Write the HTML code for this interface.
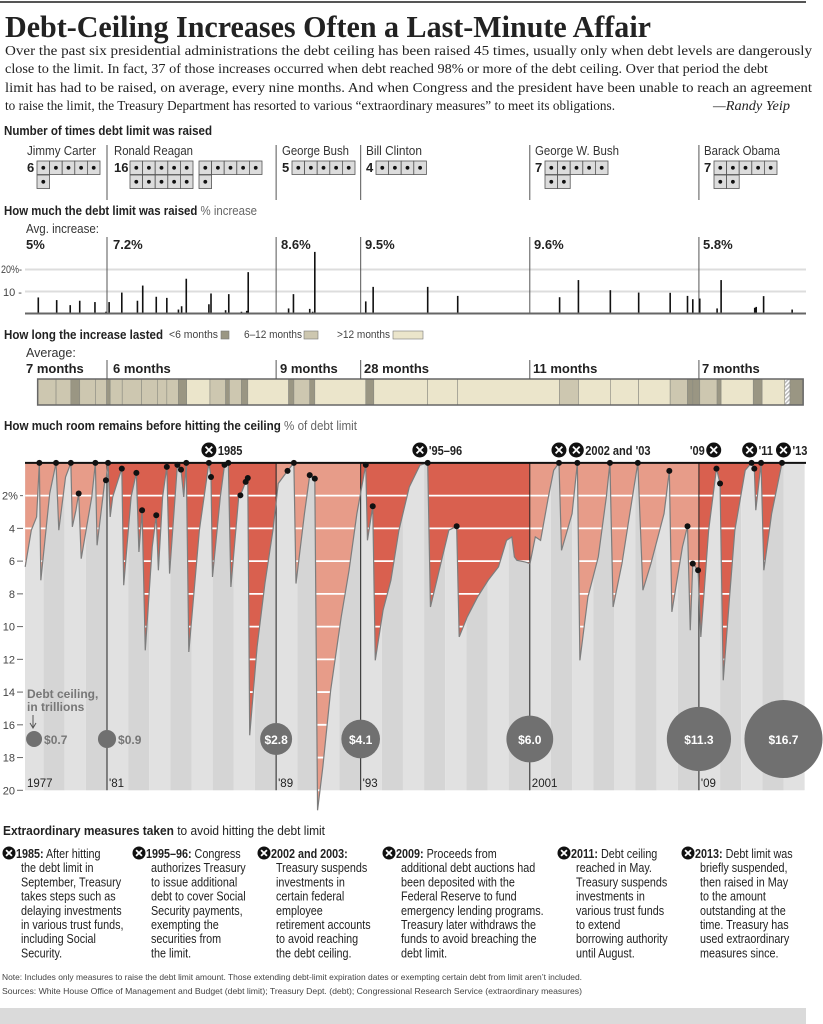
<!DOCTYPE html>
<html><head><meta charset="utf-8"><style>
html,body{margin:0;padding:0;background:#fff;}
svg{display:block;font-family:"Liberation Sans Narrow","Liberation Sans",sans-serif;}
.b{font-weight:bold;}
</style></head><body>
<svg id="s" xmlns="http://www.w3.org/2000/svg" width="823" height="1024" viewBox="0 0 823 1024">
<rect x="0" y="1" width="806" height="2" fill="#555"/>
<text x="5" y="37" font-family="Liberation Serif, serif" font-weight="bold" font-size="31" textLength="646" lengthAdjust="spacingAndGlyphs" fill="#222">Debt-Ceiling Increases Often a Last-Minute Affair</text>
<g font-family="Liberation Serif, serif" font-size="14" fill="#222">
<text x="5" y="55" textLength="807" lengthAdjust="spacingAndGlyphs">Over the past six presidential administrations the debt ceiling has been raised 45 times, usually only when debt levels are dangerously</text>
<text x="5" y="73" textLength="763" lengthAdjust="spacingAndGlyphs">close to the limit. In fact, 37 of those increases occurred when debt reached 98% or more of the debt ceiling. Over that period the debt</text>
<text x="5" y="92" textLength="807" lengthAdjust="spacingAndGlyphs">limit has had to be raised, on average, every nine months. And when Congress and the president have been unable to reach an agreement</text>
<text x="5" y="110" textLength="610" lengthAdjust="spacingAndGlyphs">to raise the limit, the Treasury Department has resorted to various “extraordinary measures” to meet its obligations.</text>
<text x="713" y="110" font-style="italic" textLength="77" lengthAdjust="spacingAndGlyphs">—Randy Yeip</text>
</g>
<text x="4" y="135" font-size="13" class="b" fill="#222" textLength="208" lengthAdjust="spacingAndGlyphs">Number of times debt limit was raised</text>
<g font-size="13" fill="#333">
<text x="27" y="155" textLength="69" lengthAdjust="spacingAndGlyphs">Jimmy Carter</text><text x="114" y="155" textLength="79" lengthAdjust="spacingAndGlyphs">Ronald Reagan</text><text x="282" y="155" textLength="67" lengthAdjust="spacingAndGlyphs">George Bush</text><text x="366" y="155" textLength="56" lengthAdjust="spacingAndGlyphs">Bill Clinton</text><text x="535" y="155" textLength="84" lengthAdjust="spacingAndGlyphs">George W. Bush</text><text x="704" y="155" textLength="76" lengthAdjust="spacingAndGlyphs">Barack Obama</text>
</g>
<g id="counts"></g>

<text x="4" y="215" font-size="13" fill="#222" textLength="253" lengthAdjust="spacingAndGlyphs"><tspan class="b">How much the debt limit was raised</tspan><tspan fill="#666"> % increase</tspan></text>
<text x="26" y="233" font-size="12.5" fill="#333" textLength="73" lengthAdjust="spacingAndGlyphs">Avg. increase:</text>
<g font-size="13" class="b" fill="#222">
<text x="26" y="249">5%</text><text x="113" y="249">7.2%</text><text x="281" y="249">8.6%</text><text x="365" y="249">9.5%</text><text x="534" y="249">9.6%</text><text x="703" y="249">5.8%</text>
</g>
<g font-size="11" fill="#444">
<text x="1" y="273" textLength="21" lengthAdjust="spacingAndGlyphs">20%-</text><text x="3" y="296">10 -</text>
</g>
<g id="bars"></g>

<text x="4" y="339" font-size="13" fill="#222" textLength="159" lengthAdjust="spacingAndGlyphs"><tspan class="b">How long the increase lasted</tspan></text>
<g font-size="11" fill="#444">
<text x="169" y="338" textLength="49" lengthAdjust="spacingAndGlyphs">&lt;6 months</text><rect x="221" y="331" width="8" height="8" fill="#9a9683" stroke="#777" stroke-width="0.6"/>
<text x="244" y="338" textLength="58" lengthAdjust="spacingAndGlyphs">6–12 months</text><rect x="304" y="331" width="14" height="8" fill="#cdc7b0" stroke="#777" stroke-width="0.6"/>
<text x="337" y="338" textLength="53" lengthAdjust="spacingAndGlyphs">&gt;12 months</text><rect x="393" y="331" width="30" height="8" fill="#ebe5cb" stroke="#777" stroke-width="0.6"/>
</g>
<text x="26" y="357" font-size="12.5" fill="#333">Average:</text>
<g font-size="13" class="b" fill="#222">
<text x="26" y="373">7 months</text><text x="113" y="373">6 months</text><text x="280" y="373">9 months</text><text x="364" y="373">28 months</text><text x="533" y="373">11 months</text><text x="702" y="373">7 months</text>
</g>
<defs><pattern id="hatch" width="3" height="3" patternUnits="userSpaceOnUse" patternTransform="rotate(45)"><rect width="3" height="3" fill="#fff"/><rect width="1.5" height="3" fill="#bbb"/></pattern></defs>
<g id="dur"></g>

<text x="4" y="430" font-size="13" fill="#222" textLength="353" lengthAdjust="spacingAndGlyphs"><tspan class="b">How much room remains before hitting the ceiling</tspan><tspan fill="#666"> % of debt limit</tspan></text>
<g id="room"></g>

<text x="3" y="835" font-size="13" fill="#222" textLength="322" lengthAdjust="spacingAndGlyphs"><tspan class="b">Extraordinary measures taken</tspan><tspan> to avoid hitting the debt limit</tspan></text>
<g id="measures" font-size="13" fill="#222"></g>
<text x="2" y="980" font-size="8.5" fill="#444" textLength="580" lengthAdjust="spacingAndGlyphs">Note: Includes only measures to raise the debt limit amount. Those extending debt-limit expiration dates or exempting certain debt from limit aren’t included.</text>
<text x="2" y="994" font-size="8.5" fill="#444" textLength="580" lengthAdjust="spacingAndGlyphs">Sources: White House Office of Management and Budget (debt limit); Treasury Dept. (debt); Congressional Research Service (extraordinary measures)</text>
<rect x="0" y="1008" width="806" height="16" fill="#dadada"/>
</svg>
<script>
// ---- data ----
const presidents = ["Jimmy Carter","Ronald Reagan","George Bush","Bill Clinton","George W. Bush","Barack Obama"];
const raiseCounts = [6,16,5,4,7,7];
const adminStarts = [1981,1989,1993,2001,2009];
const barYears = [1977.75,1978.62,1979.26,1979.71,1980.43,1980.95,1981.10,1981.70,1982.44,1982.69,1983.33,1983.83,1984.38,1984.53,1984.75,1985.82,1985.92,1986.61,1986.76,1987.36,1987.61,1987.68,1989.59,1989.82,1990.59,1990.73,1990.83,1993.24,1993.59,1996.17,1997.59,2002.41,2003.30,2004.81,2006.15,2007.64,2008.46,2008.71,2009.04,2009.86,2010.05,2011.64,2011.71,2012.06,2013.41];
const barValues = [7.3,6.1,3.8,5.8,5.2,0.8,5.2,9.5,5.8,12.7,7.6,7.1,1.8,3.3,15.8,4.2,9.1,1.5,8.8,0.8,1.2,18.8,2.3,8.8,2.1,0.8,28,5.5,12.1,12.1,8.0,7.4,15.2,10.6,9.5,9.4,8.0,6.5,6.8,2.3,15.2,2.6,3.0,7.9,1.8];
const durStarts = [1977.72,1978.59,1979.29,1979.71,1980.45,1980.98,1981.15,1981.72,1982.64,1983.38,1983.83,1984.38,1984.77,1985.87,1986.61,1986.79,1987.36,1987.66,1989.59,1989.84,1990.59,1990.83,1993.24,1993.62,1996.17,1997.59,2002.41,2003.30,2004.81,2006.15,2007.64,2008.46,2008.71,2009.04,2009.86,2010.05,2011.57,2011.99,2013.06,2013.31];
const durTypes = ["m","m","d","m","m","d","m","m","m","m","m","d","l","m","d","m","d","l","d","m","d","l","d","l","l","l","m","l","l","l","m","d","d","m","d","l","d","l","h","d"];
const durEnd = 2013.93;
const roomYears = [1977.13,1977.42,1977.67,1977.80,1977.87,1978.29,1978.59,1978.72,1979.04,1979.29,1979.36,1979.53,1979.66,1979.78,1980.28,1980.45,1980.53,1980.90,1980.95,1981.05,1981.15,1981.27,1981.52,1981.70,1981.79,1982.14,1982.39,1982.51,1982.66,1982.81,1983.14,1983.33,1983.43,1983.63,1983.83,1983.96,1984.33,1984.50,1984.63,1984.75,1984.87,1985.37,1985.82,1985.92,1985.99,1986.36,1986.56,1986.74,1986.86,1987.23,1987.31,1987.56,1987.66,1987.75,1988.10,1988.47,1988.85,1989.10,1989.54,1989.84,1989.94,1990.34,1990.59,1990.83,1990.96,1991.21,1991.58,1992.08,1992.45,1992.82,1993.24,1993.32,1993.57,1993.69,1994.06,1994.43,1994.81,1995.30,1995.80,1996.17,1996.30,1996.79,1997.17,1997.54,1997.66,1998.04,1998.53,1999.03,1999.52,1999.90,2000.15,2000.27,2000.39,2000.77,2001.01,2001.26,2001.51,2001.88,2002.13,2002.38,2002.50,2003.00,2003.25,2003.37,2003.75,2004.24,2004.62,2004.79,2004.94,2005.36,2005.73,2006.11,2006.35,2006.73,2007.35,2007.60,2007.72,2008.22,2008.46,2008.59,2008.71,2008.96,2009.09,2009.46,2009.83,2010.00,2010.15,2010.45,2010.70,2011.19,2011.49,2011.62,2011.69,2011.94,2012.07,2012.44,2012.93,2013.98];
const roomPcts = [6.35,4.11,3.3,0,7.17,1.87,0,4.11,0.86,0,3.91,2.89,1.87,5.85,2.08,0,5.03,1.06,1.06,0,3.3,2.08,1.06,0.35,7.47,2.08,0.61,5.44,2.89,11.45,5.13,3.2,6.56,2.08,0.24,6.76,0.12,0.41,2.08,0,11.55,4.11,0,0.86,6.97,2.08,0.12,0,7.58,2.08,1.98,1.16,0.92,16.64,11.24,7.37,4.11,1.26,0.49,0,7.37,3.1,0.75,0.96,21.22,18.57,13.89,9.41,6.56,3.1,0.12,4.73,2.65,12.06,8.99,7.17,4.11,1.47,0.14,0,8.8,6.15,4.11,3.87,10.63,9.41,8.19,7.17,6.35,4.73,4.52,5.74,5.95,6.05,6.15,4.52,4.73,2.08,0.45,0,5.34,3.1,0,12.06,8.19,5.74,2.08,0,8.8,6.15,3.1,0,7.78,6.15,3.1,0.49,9.1,5.13,3.87,10.22,6.15,6.56,10.63,4.11,0.35,1.26,13.28,8.19,4.11,0.45,0,0.35,2.89,0,6.56,3.1,0,0];
const dotYears = [1977.80,1978.59,1979.29,1979.66,1980.45,1980.95,1981.05,1981.70,1982.39,1982.66,1983.33,1983.83,1984.33,1984.50,1984.75,1985.82,1985.92,1986.56,1986.74,1987.31,1987.56,1987.66,1989.54,1989.84,1990.59,1990.83,1993.24,1993.57,1996.17,1997.54,2002.38,2003.25,2004.79,2006.11,2007.60,2008.46,2008.71,2008.96,2009.83,2010.00,2011.49,2011.62,2011.94,2012.93];
const dotPcts = [0,0,0,1.87,0,1.06,0,0.35,0.61,2.89,3.2,0.24,0.12,0.41,0,0,0.86,0.12,0,1.98,1.16,0.92,0.49,0,0.75,0.96,0.12,2.65,0,3.87,0,0,0,0,0.49,3.87,6.15,6.56,0.35,1.26,0,0.35,0,0];
const ceilingYears = [1977.55,1981,1989,1993,2001,2009,2013];
const ceilingValues = [0.7,0.9,2.8,4.1,6.0,11.3,16.7];
const ceilingLabels = ["$0.7","$0.9","$2.8","$4.1","$6.0","$11.3","$16.7"];
const roomTicks = [2,4,6,8,10,12,14,16,18,20];
const yearLabels = ["1977","'81","'89","'93","2001","'09"];
const yearLabelYears = [1977.12,1981,1989,1993,2001,2009];
const measureYears = [1985.82,1995.8,2002.38,2003.2,2009.7,2011.4,2013.0];

// ---- scales ----
const NS = "http://www.w3.org/2000/svg";
function X(yr){ return 107 + (yr-1981)*21.14; }
function Ybar(v){ return 313.5 - v*2.2; }
function Yroom(p){ return 462.9 + p*16.37; }
function mk(tag, parent, attrs){ const e=document.createElementNS(NS,tag); for(const k in attrs) e.setAttribute(k,attrs[k]); parent.appendChild(e); return e; }
const X0 = 25, X1 = 806;
const dividerX = adminStarts.map(X);

// ---- count grids ----
const counts = document.getElementById('counts');
const labelX = [27,114,282,366,535,704];
presidents.forEach((p,i)=>{
  const n = raiseCounts[i];
  const t = mk('text',counts,{x:labelX[i],y:172,'font-size':13,'font-weight':'bold',fill:'#222'});
  
  
  t.textContent = n;
  const bx = labelX[i] + (n>=10?16:10);
  const slots = [];
  if(n>10){ for(let k=0;k<5;k++)slots.push([bx+k*12.6,161]); for(let k=0;k<5;k++)slots.push([bx+69+k*12.6,161]); for(let k=0;k<5;k++)slots.push([bx+k*12.6,175]); for(let k=0;k<5;k++)slots.push([bx+69+k*12.6,175]); }
  else { for(let k=0;k<5;k++)slots.push([bx+k*12.6,161]); for(let k=0;k<5;k++)slots.push([bx+k*12.6,175]); }
  for(let k=0;k<n;k++){
    const r = mk('rect',counts,{x:slots[k][0],y:slots[k][1],width:12.6,height:13.5,fill:'#dcdcdc',stroke:'#555','stroke-width':0.8});
    
    
    const d = mk('circle',counts,{cx:slots[k][0]+6.3,cy:slots[k][1]+6.8,r:1.9,fill:'#111'});
    
    
  }
});
dividerX.forEach(x=>{
  const l = mk('line',counts,{x1:x,x2:x,y1:145,y2:200,stroke:'#555','stroke-width':1});
  
  
});

// ---- bar chart ----
const bars = document.getElementById('bars');
[10,20].forEach(v=>{
  const g = mk('line',bars,{x1:X0,x2:X1,y1:Ybar(v),y2:Ybar(v),stroke:'#ddd','stroke-width':2});
  
  
});
dividerX.forEach(x=>{
  const l = mk('line',bars,{x1:x,x2:x,y1:237,y2:313,stroke:'#555','stroke-width':1});
  
  
});
barYears.forEach((yr,i)=>{
  const r = mk('rect',bars,{x:X(yr)-0.8,y:Ybar(barValues[i]),width:1.6,height:barValues[i]*2.2,fill:'#111'});
  
  
});
const base = mk('line',bars,{x1:X0,x2:X1,y1:313.5,y2:313.5,stroke:'#666','stroke-width':2});



// ---- duration bar ----
const dur = document.getElementById('dur');
const durColor = {d:'#9a9683',m:'#cdc7b0',l:'#ebe5cb',h:'url(#hatch)'};
durStarts.forEach((s,i)=>{
  const e = i<durStarts.length-1 ? durStarts[i+1] : durEnd;
  const r = mk('rect',dur,{x:X(s),y:379,width:X(e)-X(s),height:26,fill:durColor[durTypes[i]],stroke:'#8a8a80','stroke-width':0.6});
  
  
});
const frame = mk('rect',dur,{x:X(durStarts[0]),y:379,width:X(durEnd)-X(durStarts[0]),height:26,fill:'none',stroke:'#666','stroke-width':1.5});


dividerX.forEach(x=>{
  const l = mk('line',dur,{x1:x,x2:x,y1:360,y2:379,stroke:'#555','stroke-width':1});
  
  
});

// ---- room chart ----
const room = document.getElementById('room');
const yTop = Yroom(0), yBot = Yroom(20);
for(let yr=1977; yr<2014; yr++){
  const a = Math.max(X(yr),X0), b = Math.min(X(yr+1),X1);
  const s = mk('rect',room,{x:a,y:yTop,width:b-a,height:yBot-yTop,fill:(yr%2?'#e1e1e1':'#d5d5d5')});
  
  
}
const defs = mk('defs',room,{});
const cp = mk('clipPath',defs,{id:'redclip'});
let pts = X(roomYears[0])+','+yTop+' ';
roomYears.forEach((yr,i)=>{ pts += X(yr)+','+Yroom(roomPcts[i])+' '; });
pts += X(roomYears[roomYears.length-1])+','+yTop;
mk('polygon',cp,{points:pts});
const redG = mk('g',room,{'clip-path':'url(#redclip)'});


const zoneEdges = [1977.12,1981,1989,1993,2001,2009,2014.1];
for(let z=0; z<6; z++){
  const r = mk('rect',redG,{x:X(zoneEdges[z]),y:yTop,width:X(zoneEdges[z+1])-X(zoneEdges[z]),height:24*16.37,fill:(z%2?'#d9604f':'#e79c89')});
  
  
}
for(let p=2;p<=22;p+=2){
  const l = mk('line',redG,{x1:X0,x2:X1,y1:Yroom(p),y2:Yroom(p),stroke:'#fff','stroke-width':1.8});
  
  
}
dividerX.forEach(x=>{
  const l = mk('line',room,{x1:x,x2:x,y1:yTop,y2:yBot,stroke:'#222','stroke-width':1});
  
  
});
let ln = '';
roomYears.forEach((yr,i)=>{ ln += (i?'L':'M')+X(yr)+','+Yroom(roomPcts[i]); });
const roomPath = mk('path',room,{d:ln,fill:'none',stroke:'#7d7d7d','stroke-width':1.2});


const ceilLine = mk('line',room,{x1:X0,x2:X1,y1:yTop,y2:yTop,stroke:'#111','stroke-width':2});


dotYears.forEach((yr,i)=>{
  const c = mk('circle',room,{cx:X(yr),cy:Yroom(dotPcts[i]),r:3,fill:'#111'});
  
  
});
roomTicks.forEach(p=>{
  const t = mk('text',room,{x:(p===2?2:15),y:Yroom(p)+4,'font-size':11,fill:'#444','text-anchor':(p===2?'start':'end')});
  
  
  t.textContent = p===2?'2%':String(p);
  const d = mk('line',room,{x1:(p===2?20:17),x2:23,y1:Yroom(p),y2:Yroom(p),stroke:'#666','stroke-width':1});
  
  
});
yearLabels.forEach((lab,i)=>{
  const t = mk('text',room,{x:X(yearLabelYears[i])+2,y:787,'font-size':11.5,fill:'#222'});
  
  
  t.textContent = lab;
});
ceilingYears.forEach((yr,i)=>{
  const r = 9.55*Math.sqrt(ceilingValues[i]);
  const c = mk('circle',room,{cx:X(yr),cy:739,r:r,fill:'#707070'});
  
  
  const small = r < 12;
  const t = mk('text',room,{x:small?X(yr)+r+2:X(yr),y:744,'font-size':12,'font-weight':'bold',fill:small?'#777':'#fff','text-anchor':small?'start':'middle'});
  
  
  t.textContent = ceilingLabels[i];
});
const dcl = mk('text',room,{x:27,y:698,'font-size':12,'font-weight':'bold',fill:'#777'});


dcl.textContent = 'Debt ceiling,';
const dcl2 = mk('text',room,{x:27,y:711,'font-size':12,'font-weight':'bold',fill:'#777'});


dcl2.textContent = 'in trillions';
const arr = mk('path',room,{d:'M33,715 L33,727 M30,723 L33,728 L36,723',stroke:'#555',fill:'none','stroke-width':1});



function xIcon(parent,cx,cy,r){
  const g = mk('g',parent,{});
  mk('circle',g,{cx:cx,cy:cy,r:r,fill:'#111'});
  const k = r*0.45;
  mk('path',g,{d:`M${cx-k},${cy-k}L${cx+k},${cy+k}M${cx+k},${cy-k}L${cx-k},${cy+k}`,stroke:'#fff','stroke-width':1.8});
  return g;
}
const markerLabels = ["1985","'95–96","","2002 and '03","'09","'11","'13"];
const markerSide = ["r","r","n","r","l","r","r"];
measureYears.forEach((yr,i)=>{
  const g = xIcon(room,X(yr),450,7.5);
  
  
  if(markerLabels[i]){
    const mx = markerSide[i]==='r'?X(yr)+9:X(yr)-9;
    const t = mk('text',room,{x:mx,y:455,'font-size':13,'font-weight':'bold',fill:'#222','text-anchor':markerSide[i]==='r'?'start':'end',transform:`translate(${mx},0) scale(0.85,1) translate(${-mx},0)`});
    
    
    t.textContent = markerLabels[i];
  }
});

// ---- measures text ----
const measures = document.getElementById('measures');
const colX = [3,133,258,383,558,682];
const colHead = ["1985:","1995–96:","2002 and 2003:","2009:","2011:","2013:"];
const colLines = [
 [" After hitting","the debt limit in","September, Treasury","takes steps such as","delaying investments","in various trust funds,","including Social","Security."],
 [" Congress","authorizes Treasury","to issue additional","debt to cover Social","Security payments,","exempting the","securities from","the limit."],
 ["","Treasury suspends","investments in","certain federal","employee","retirement accounts","to avoid reaching","the debt ceiling."],
 [" Proceeds from","additional debt auctions had","been deposited with the","Federal Reserve to fund","emergency lending programs.","Treasury later withdraws the","funds to avoid breaching the","debt limit."],
 [" Debt ceiling","reached in May.","Treasury suspends","investments in","various trust funds","to extend","borrowing authority","until August."],
 [" Debt limit was","briefly suspended,","then raised in May","to the amount","outstanding at the","time. Treasury has","used extraordinary","measures since."]
];
colX.forEach((x,c)=>{
  const g = xIcon(measures,x+6,853,6.5);
  
  
  colLines[c].forEach((line,j)=>{
    const tx = j===0?x+13:x+18;
    const t = mk('text',measures,{x:tx,y:858+j*14.2,transform:`translate(${tx},0) scale(0.83,1) translate(${-tx},0)`});
    
    
    if(j===0){
      const b = mk('tspan',t,{'font-weight':'bold'}); b.textContent = colHead[c];
      const r = mk('tspan',t,{}); r.textContent = line;
    } else t.textContent = line;
  });
});
</script>
</body></html>
